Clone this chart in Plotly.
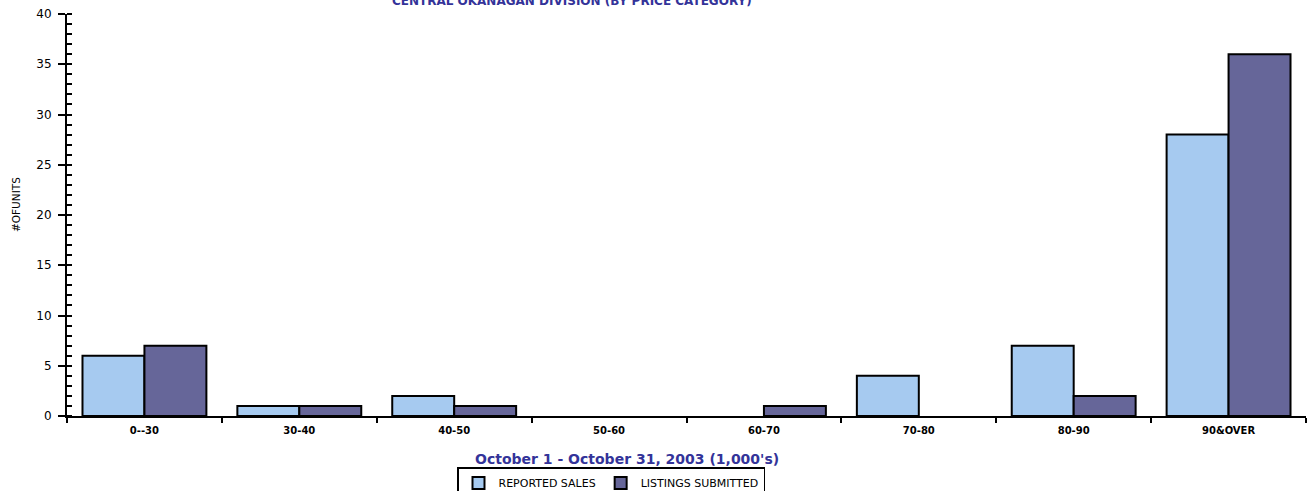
import plotly.graph_objects as go

categories = ["0--30", "30-40", "40-50", "50-60", "60-70", "70-80", "80-90", "90&OVER"]
reported_sales = [6, 1, 2, 0, 0, 4, 7, 28]
listings_submitted = [7, 1, 1, 0, 1, 0, 2, 36]

title_text = "CENTRAL OKANAGAN DIVISION (BY PRICE CATEGORY)"
x_title = "October 1 - October 31, 2003 (1,000's)"
y_title = "#OFUNITS"

FONT = "DejaVu Sans, Arial, sans-serif"

def outline(vals):
    return [2 if v else 0 for v in vals]

fig = go.Figure()
fig.add_trace(go.Bar(x=categories, y=reported_sales, name="REPORTED SALES",
                     marker=dict(color="#A6CAF0", line=dict(color="black", width=outline(reported_sales)))))
fig.add_trace(go.Bar(x=categories, y=listings_submitted, name="LISTINGS SUBMITTED",
                     marker=dict(color="#666699", line=dict(color="black", width=outline(listings_submitted)))))

fig.update_layout(
    width=1307, height=491,
    margin=dict(l=67, r=1, t=14, b=75, autoexpand=False),
    paper_bgcolor="white", plot_bgcolor="white",
    barmode="group", bargap=0.2, bargroupgap=0,
    font=dict(family=FONT, color="black"),
    showlegend=True,
    legend=dict(orientation="h", x=(611 - 67) / 1239, xanchor="center",
                y=-(467 - 416) / 402, yanchor="top",
                bordercolor="black", borderwidth=1.5, font=dict(size=11, family=FONT),
                itemwidth=30, tracegroupgap=0),
    annotations=[
        dict(text="<b>" + title_text + "</b>", xref="paper", yref="paper",
             x=(572 - 67) / 1239, y=1 + 12.5 / 402, xanchor="center", yanchor="middle",
             showarrow=False, font=dict(size=12, color="#333399", family=FONT)),
        dict(text="<b>" + x_title + "</b>", xref="paper", yref="paper",
             x=(627 - 67) / 1239, y=-(459 - 416) / 402, xanchor="center", yanchor="middle",
             showarrow=False, font=dict(size=14, color="#333399", family=FONT)),
        dict(text=y_title, xref="paper", yref="paper", textangle=-90,
             x=-(67 - 16) / 1239, y=(416 - 205) / 402, xanchor="center", yanchor="middle",
             showarrow=False, font=dict(size=10.5, color="black", family=FONT)),
    ],
)
fig.update_xaxes(
    type="category", tickson="boundaries", ticks="outside", ticklen=5, tickwidth=2,
    tickcolor="black", showline=True, linecolor="black", linewidth=2,
    showgrid=False, automargin=False, ticklabelstandoff=4,
    tickfont=dict(size=10, color="black", weight="bold", family=FONT),
)
fig.update_yaxes(
    range=[0, 40], dtick=5, ticks="outside", ticklen=7, tickwidth=2, tickcolor="black",
    showline=True, linecolor="black", linewidth=2, showgrid=False, zeroline=False,
    automargin=False, ticklabelstandoff=4, tickfont=dict(size=12, color="black", family=FONT),
    minor=dict(dtick=1, ticks="inside", ticklen=5, tickwidth=1.5, tickcolor="black", showgrid=False),
)
fig.write_html("out.html", config={"displayModeBar": False},
               post_script="document.body.style.margin='0';document.body.style.overflow='hidden';")
